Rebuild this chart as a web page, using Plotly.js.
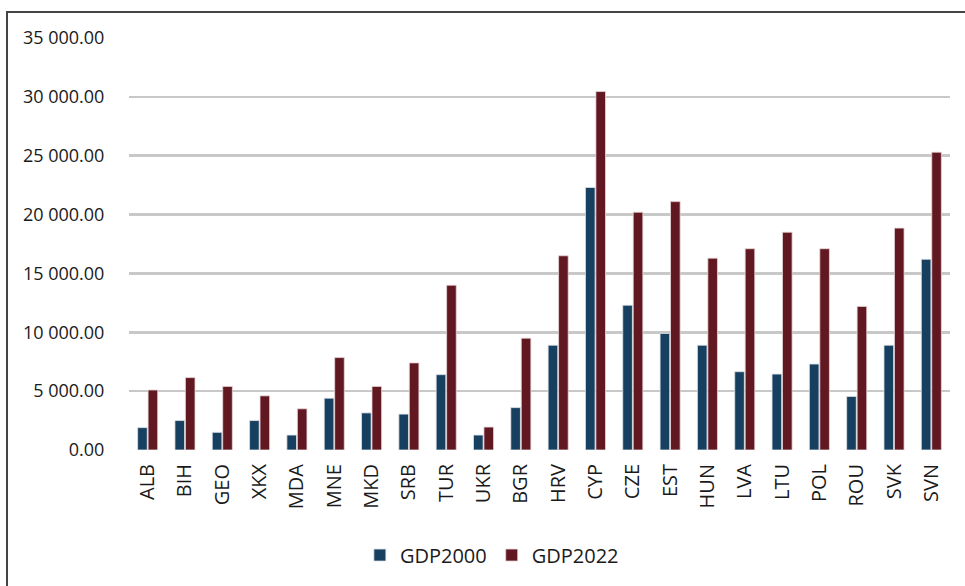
<!DOCTYPE html>
<html>
<head>
<meta charset="utf-8">
<script src="https://cdn.plot.ly/plotly-3.0.1.min.js"></script>
<style>
  html, body { margin: 0; padding: 0; background: #fff; }
  #wrap { position: relative; width: 965px; height: 586px; overflow: hidden; }
  #chart { width: 965px; height: 586px; }
  #frame { position: absolute; left: 6px; top: 11px; width: 980px; height: 600px;
           border-top: 2px solid #444; border-left: 2px solid #444; pointer-events: none; }
</style>
</head>
<body>
<div id="wrap">
  <div id="chart"></div>
  <div id="frame"></div>
</div>
<script>
const countries = ["ALB","BIH","GEO","XKX","MDA","MNE","MKD","SRB","TUR","UKR","BGR","HRV","CYP","CZE","EST","HUN","LVA","LTU","POL","ROU","SVK","SVN"];
const gdp2000 = [1900, 2500, 1500, 2500, 1270, 4400, 3150, 3050, 6400, 1270, 3600, 8900, 22300, 12300, 9900, 8900, 6650, 6450, 7300, 4550, 8900, 16200];
const gdp2022 = [5100, 6150, 5400, 4600, 3500, 7850, 5400, 7400, 14000, 1950, 9500, 16500, 30450, 20200, 21100, 16300, 17100, 18500, 17100, 12200, 18850, 25300];
const yTickVals = [0, 5000, 10000, 15000, 20000, 25000, 30000, 35000];
const yTickText = ["0.00", "5 000.00", "10 000.00", "15 000.00", "20 000.00", "25 000.00", "30 000.00", "35 000.00"];

const fontFam = "Open Sans, Noto Sans, sans-serif";
const data = [
  { type: "bar", name: "GDP2000", x: countries, y: gdp2000,
    marker: { color: "#163f60", line: { color: "rgba(220,225,230,0.8)", width: 1 } } },
  { type: "bar", name: "GDP2022", x: countries, y: gdp2022,
    marker: { color: "#621820", line: { color: "rgba(230,215,215,0.8)", width: 1 } } }
];
const layout = {
  width: 965, height: 586,
  margin: { l: 129, r: 15, t: 38, b: 134 },
  paper_bgcolor: "#fff", plot_bgcolor: "#fff",
  barmode: "group", bargap: 0.44, bargroupgap: 0.08,
  font: { family: fontFam, size: 18, color: "#1a1a1a" },
  showlegend: true,
  legend: { orientation: "h", x: 0.442, xanchor: "center", y: -0.255, yanchor: "middle",
            font: { family: fontFam, size: 20, color: "#1a1a1a" }, itemwidth: 30, traceorder: "normal" },
  xaxis: { type: "category", tickangle: -90, showgrid: false, zeroline: false, showline: false,
           ticks: "outside", ticklen: 5, tickcolor: "rgba(0,0,0,0)",
           tickfont: { family: fontFam, size: 20, color: "#1a1a1a" } },
  yaxis: { range: [0, 35000], tickmode: "array", tickvals: yTickVals, ticktext: yTickText,
           showgrid: true, gridcolor: "#c8c8c8", gridwidth: 2.5, zeroline: false, showline: false,
           ticks: "outside", ticklen: 20, tickcolor: "rgba(0,0,0,0)",
           tickfont: { family: fontFam, size: 18, color: "#1a1a1a" } }
};
Plotly.newPlot("chart", data, layout, { displayModeBar: false, staticPlot: true });
</script>
</body>
</html>
